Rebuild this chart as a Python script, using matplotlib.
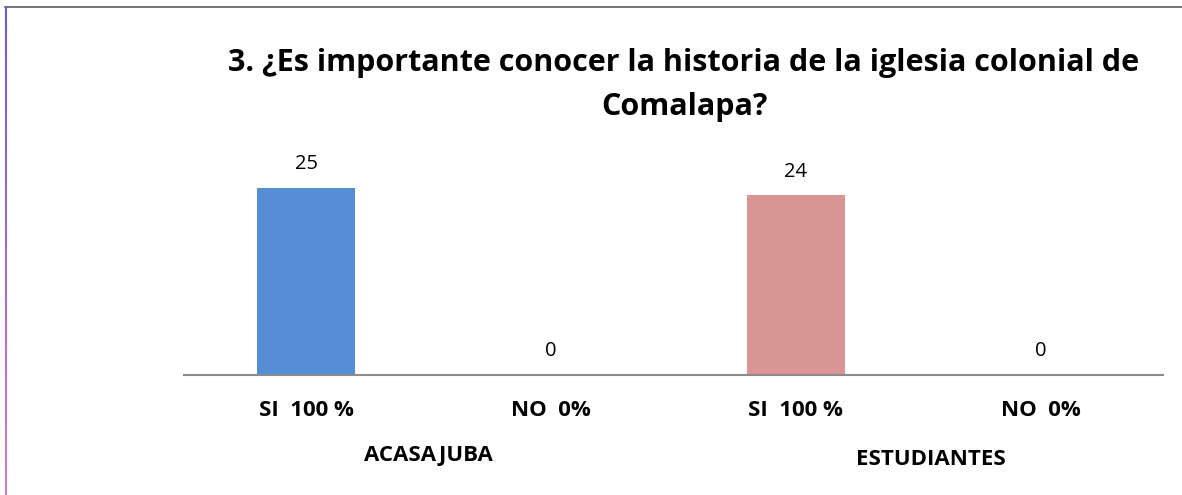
import matplotlib
matplotlib.use('Agg')
import matplotlib.pyplot as plt
from matplotlib.lines import Line2D

plt.rcParams['font.family'] = ['Open Sans', 'DejaVu Sans']

# Data
categories = ['SI  100 %', 'NO  0%', 'SI  100 %', 'NO  0%']
values = [25, 0, 24, 0]
colors = ['#558ED5', '#558ED5', '#D99594', '#D99594']
groups = ['ACASAJUBA', 'ESTUDIANTES']
title = '3. ¿Es importante conocer la historia de la iglesia colonial de\nComalapa?'

fig = plt.figure(figsize=(11.82, 4.95), dpi=100)
ax = fig.add_axes([184 / 1182, 1 - 375 / 495, (1163 - 184) / 1182, (375 - 150.6) / 495])

x = list(range(len(categories)))
bars = ax.bar(x, values, width=0.4, color=colors)
ax.set_xlim(-0.5, len(categories) - 0.5)
ax.set_ylim(0, 30)

for xi, v in zip(x, values):
    ax.annotate(str(v), (xi, v), xytext=(0, 10), textcoords='offset points',
                ha='center', va='bottom', fontsize=14.5)

ax.set_xticks(x)
ax.set_xticklabels(categories, fontsize=16, fontweight='bold')
ax.tick_params(axis='x', length=0, pad=18)
ax.set_yticks([])
for s in ['top', 'right', 'left']:
    ax.spines[s].set_visible(False)
ax.spines['bottom'].set_color('#8c8c8c')
ax.spines['bottom'].set_linewidth(1.5)

# group labels under pairs of bars
trans = ax.get_xaxis_transform()
ax.text(0.5, -0.36, groups[0], transform=trans, ha='center', va='center',
        fontsize=16, fontweight='bold')
ax.text(2.55, -0.375, groups[1], transform=trans, ha='center', va='center',
        fontsize=16, fontweight='bold')

fig.text(684 / 1182, 1 - 85 / 495, title, ha='center', va='center',
         fontsize=22, fontweight='bold', linespacing=1.62)

# frame of the chart area: top and left only
fig.add_artist(Line2D([5 / 1182, 1], [1 - 7 / 495, 1 - 7 / 495], color='#5a5a5a', lw=1.2))
n = 20
for i in range(n):
    y0 = 1 - 7 / 495 - i * (1 - 7 / 495) / n
    y1 = 1 - 7 / 495 - (i + 1) * (1 - 7 / 495) / n
    t = i / (n - 1)
    c = (0.45 + 0.35 * t, 0.35 + 0.15 * t, 0.85 - 0.1 * t)
    fig.add_artist(Line2D([5.5 / 1182, 5.5 / 1182], [y0, y1], color=c, lw=1.5))

fig.savefig('out.png', dpi=100)
